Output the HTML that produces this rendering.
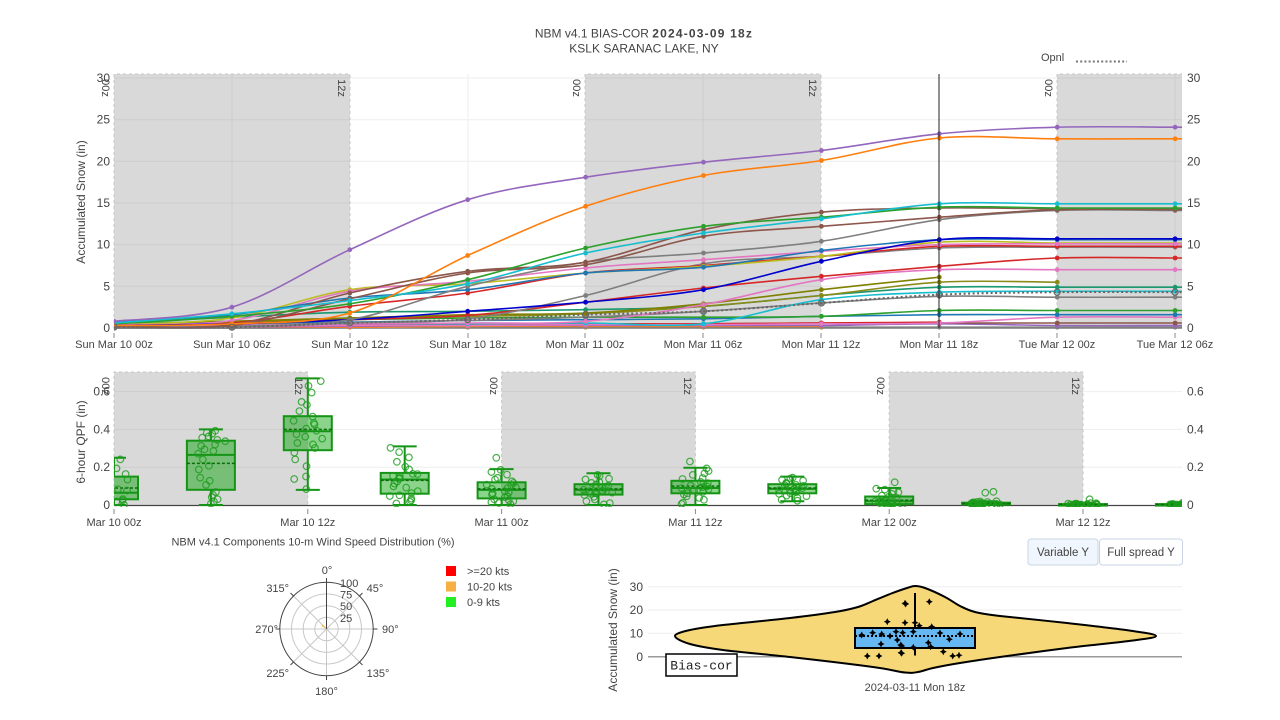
<!DOCTYPE html>
<html><head><meta charset="utf-8">
<style>
html,body{margin:0;padding:0;background:#fff;}
svg{display:block;font-family:"Liberation Sans",Arial,sans-serif;}
</style></head>
<body>
<svg id="s" width="1280" height="720" viewBox="0 0 1280 720" xmlns="http://www.w3.org/2000/svg">
<defs>
 <clipPath id="c1"><rect x="114" y="70" width="1068" height="262"/></clipPath>
 <clipPath id="c2"><rect x="114" y="370" width="1068" height="137"/></clipPath>
</defs>

<!-- Titles -->
<text x="644" y="37.5" text-anchor="middle" font-size="12" fill="#444">NBM v4.1 BIAS-COR <tspan font-weight="bold" letter-spacing="1.2">2024-03-09 18z</tspan></text>
<text x="644" y="52.5" text-anchor="middle" font-size="12" fill="#444">KSLK SARANAC LAKE, NY</text>

<!-- Opnl legend -->
<text x="1041" y="61" font-size="11" fill="#444">Opnl</text>
<line x1="1076" y1="61.5" x2="1127" y2="61.5" stroke="#777" stroke-width="2" stroke-dasharray="2,2.2"/>

<!-- ===== TOP CHART ===== -->
<g stroke="#eeeeee" stroke-width="1">
 <line x1="114" y1="78" x2="1182" y2="78"/>
 <line x1="114" y1="119.7" x2="1182" y2="119.7"/>
 <line x1="114" y1="161.3" x2="1182" y2="161.3"/>
 <line x1="114" y1="203" x2="1182" y2="203"/>
 <line x1="114" y1="244.7" x2="1182" y2="244.7"/>
 <line x1="114" y1="286.3" x2="1182" y2="286.3"/>
 <line x1="232" y1="74" x2="232" y2="328"/>
 <line x1="468" y1="74" x2="468" y2="328"/>
 <line x1="703" y1="74" x2="703" y2="328"/>
 <line x1="939" y1="74" x2="939" y2="328"/>
 <line x1="1175" y1="74" x2="1175" y2="328"/>
</g>
<g fill="#808080" fill-opacity="0.3">
 <rect x="114" y="74" width="236" height="255"/>
 <rect x="585" y="74" width="236" height="255"/>
 <rect x="1057" y="74" width="125" height="255"/>
</g>
<g stroke="#c6c6c6" stroke-width="1" stroke-dasharray="3,3" fill="none">
 <path d="M114,329 V74 H350 V329"/>
 <path d="M585,329 V74 H821 V329"/>
 <path d="M1057,329 V74 H1182"/>
</g>
<line x1="114" y1="328.5" x2="1182" y2="328.5" stroke="#9a9a9a" stroke-width="1"/>

<g font-size="11" fill="#444" text-anchor="middle">
 <text transform="translate(106,88) rotate(90)" dy="4">00z</text>
 <text transform="translate(342,88) rotate(90)" dy="4">12z</text>
 <text transform="translate(577,88) rotate(90)" dy="4">00z</text>
 <text transform="translate(813,88) rotate(90)" dy="4">12z</text>
 <text transform="translate(1049,88) rotate(90)" dy="4">00z</text>
</g>

<g id="lines" clip-path="url(#c1)"></g>

<line x1="939" y1="74" x2="939" y2="328" stroke="#222" stroke-width="1"/>

<g font-size="12" fill="#444" text-anchor="end">
 <text x="110" y="82">30</text>
 <text x="110" y="123.7">25</text>
 <text x="110" y="165.3">20</text>
 <text x="110" y="207">15</text>
 <text x="110" y="248.7">10</text>
 <text x="110" y="290.3">5</text>
 <text x="110" y="332">0</text>
</g>
<g font-size="12" fill="#444" text-anchor="start">
 <text x="1187" y="82">30</text>
 <text x="1187" y="123.7">25</text>
 <text x="1187" y="165.3">20</text>
 <text x="1187" y="207">15</text>
 <text x="1187" y="248.7">10</text>
 <text x="1187" y="290.3">5</text>
 <text x="1187" y="332">0</text>
</g>
<g stroke="#888" stroke-width="1">
 <line x1="114" y1="333" x2="114" y2="338"/>
 <line x1="232" y1="333" x2="232" y2="338"/>
 <line x1="350" y1="333" x2="350" y2="338"/>
 <line x1="468" y1="333" x2="468" y2="338"/>
 <line x1="585" y1="333" x2="585" y2="338"/>
 <line x1="703" y1="333" x2="703" y2="338"/>
 <line x1="821" y1="333" x2="821" y2="338"/>
 <line x1="939" y1="333" x2="939" y2="338"/>
 <line x1="1057" y1="333" x2="1057" y2="338"/>
 <line x1="1175" y1="333" x2="1175" y2="338"/>
</g>
<g font-size="11" fill="#444" text-anchor="middle">
 <text x="114" y="348">Sun Mar 10 00z</text>
 <text x="232" y="348">Sun Mar 10 06z</text>
 <text x="350" y="348">Sun Mar 10 12z</text>
 <text x="468" y="348">Sun Mar 10 18z</text>
 <text x="585" y="348">Mon Mar 11 00z</text>
 <text x="703" y="348">Mon Mar 11 06z</text>
 <text x="821" y="348">Mon Mar 11 12z</text>
 <text x="939" y="348">Mon Mar 11 18z</text>
 <text x="1057" y="348">Tue Mar 12 00z</text>
 <text x="1175" y="348">Tue Mar 12 06z</text>
</g>
<text transform="translate(85,202) rotate(-90)" text-anchor="middle" font-size="12" fill="#444">Accumulated Snow (in)</text>

<!-- ===== QPF CHART ===== -->
<g stroke="#eeeeee" stroke-width="1">
 <line x1="114" y1="467.2" x2="1182" y2="467.2"/>
 <line x1="114" y1="429.4" x2="1182" y2="429.4"/>
 <line x1="114" y1="391.6" x2="1182" y2="391.6"/>
</g>
<g fill="#808080" fill-opacity="0.3">
 <rect x="114" y="372" width="193.8" height="133"/>
 <rect x="501.6" y="372" width="193.8" height="133"/>
 <rect x="889.2" y="372" width="193.8" height="133"/>
</g>
<g stroke="#c6c6c6" stroke-width="1" stroke-dasharray="3,3" fill="none">
 <path d="M114,505 V372 H307.8 V505"/>
 <path d="M501.6,505 V372 H695.4 V505"/>
 <path d="M889.2,505 V372 H1083 V505"/>
</g>
<g font-size="11" fill="#444" text-anchor="middle">
 <text transform="translate(106,386) rotate(90)" dy="4">00z</text>
 <text transform="translate(299,386) rotate(90)" dy="4">12z</text>
 <text transform="translate(494,386) rotate(90)" dy="4">00z</text>
 <text transform="translate(688,386) rotate(90)" dy="4">12z</text>
 <text transform="translate(881,386) rotate(90)" dy="4">00z</text>
 <text transform="translate(1076,386) rotate(90)" dy="4">12z</text>
</g>
<line x1="114" y1="505.5" x2="1182" y2="505.5" stroke="#444" stroke-width="1.2"/>
<g id="boxes" clip-path="url(#c2)"></g>

<g font-size="12" fill="#444" text-anchor="end">
 <text x="110" y="509">0</text>
 <text x="110" y="471.2">0.2</text>
 <text x="110" y="433.4">0.4</text>
 <text x="110" y="395.6">0.6</text>
</g>
<g font-size="12" fill="#444" text-anchor="start">
 <text x="1187" y="509">0</text>
 <text x="1187" y="471.2">0.2</text>
 <text x="1187" y="433.4">0.4</text>
 <text x="1187" y="395.6">0.6</text>
</g>
<g stroke="#888" stroke-width="1">
 <line x1="114" y1="509" x2="114" y2="514"/>
 <line x1="307.8" y1="509" x2="307.8" y2="514"/>
 <line x1="501.6" y1="509" x2="501.6" y2="514"/>
 <line x1="695.4" y1="509" x2="695.4" y2="514"/>
 <line x1="889.2" y1="509" x2="889.2" y2="514"/>
 <line x1="1083" y1="509" x2="1083" y2="514"/>
</g>
<g font-size="11" fill="#444" text-anchor="middle">
 <text x="114" y="526">Mar 10 00z</text>
 <text x="307.8" y="526">Mar 10 12z</text>
 <text x="501.6" y="526">Mar 11 00z</text>
 <text x="695.4" y="526">Mar 11 12z</text>
 <text x="889.2" y="526">Mar 12 00z</text>
 <text x="1083" y="526">Mar 12 12z</text>
</g>
<text transform="translate(85,442) rotate(-90)" text-anchor="middle" font-size="12" fill="#444">6-hour QPF (in)</text>

<!-- ===== WIND ROSE ===== -->
<text x="313" y="545.5" text-anchor="middle" font-size="11" fill="#444">NBM v4.1 Components 10-m Wind Speed Distribution (%)</text>
<g transform="translate(326.5,629)">
 <g stroke="#c8c8c8" stroke-width="1" fill="none">
  <circle r="11.7"/><circle r="23.3"/><circle r="35"/>
  <line x1="0" y1="0" x2="0" y2="46.7"/>
  <line x1="0" y1="0" x2="46.7" y2="0"/>
  <line x1="0" y1="0" x2="-46.7" y2="0"/>
  <line x1="0" y1="0" x2="33" y2="-33"/>
  <line x1="0" y1="0" x2="33" y2="33"/>
  <line x1="0" y1="0" x2="-33" y2="33"/>
  <line x1="0" y1="0" x2="-33" y2="-33"/>
 </g>
 <circle r="46.7" fill="none" stroke="#444" stroke-width="1"/>
 <line x1="0" y1="0" x2="0" y2="-46.7" stroke="#444" stroke-width="1"/>
 <g stroke="#444" stroke-width="1">
  <line x1="0" y1="-46.7" x2="0" y2="-51"/>
  <line x1="0" y1="46.7" x2="0" y2="51"/>
  <line x1="46.7" y1="0" x2="51" y2="0"/>
  <line x1="-46.7" y1="0" x2="-51" y2="0"/>
  <line x1="33" y1="-33" x2="36" y2="-36"/>
  <line x1="33" y1="33" x2="36" y2="36"/>
  <line x1="-33" y1="33" x2="-36" y2="36"/>
  <line x1="-33" y1="-33" x2="-36" y2="-36"/>
 </g>
 <path d="M0,0 L-5,-3 L-4,-4.5 Z" fill="#f5b041"/>
</g>
<g font-size="11" fill="#444">
 <text x="340" y="587">100</text>
 <text x="340" y="598.5">75</text>
 <text x="340" y="610">50</text>
 <text x="340" y="622">25</text>
 <text x="327" y="574" text-anchor="middle">0°</text>
 <text x="375" y="592" text-anchor="middle">45°</text>
 <text x="382" y="633">90°</text>
 <text x="378" y="677" text-anchor="middle">135°</text>
 <text x="326.5" y="695" text-anchor="middle">180°</text>
 <text x="277.7" y="677" text-anchor="middle">225°</text>
 <text x="278" y="633" text-anchor="end">270°</text>
 <text x="277.7" y="592" text-anchor="middle">315°</text>
</g>
<rect x="446" y="566" width="10" height="10" fill="#ff0000"/>
<rect x="446" y="581.5" width="10" height="10" fill="#f5b041"/>
<rect x="446" y="597" width="10" height="10" fill="#22ee22"/>
<g font-size="11" fill="#444">
 <text x="467" y="575">&gt;=20 kts</text>
 <text x="467" y="590.5">10-20 kts</text>
 <text x="467" y="606">0-9 kts</text>
</g>

<!-- ===== BUTTONS ===== -->
<rect x="1028" y="539" width="70" height="26" rx="3" fill="#f0f6fd" stroke="#c8d4e3"/>
<text x="1063" y="556" text-anchor="middle" font-size="11.5" fill="#444">Variable Y</text>
<rect x="1099.5" y="539" width="83" height="26" rx="3" fill="#fff" stroke="#c8d4e3"/>
<text x="1141" y="556" text-anchor="middle" font-size="11.5" fill="#444">Full spread Y</text>

<!-- ===== VIOLIN ===== -->
<g stroke="#eeeeee" stroke-width="1">
 <line x1="648" y1="586.7" x2="1182" y2="586.7"/>
 <line x1="648" y1="610" x2="1182" y2="610"/>
 <line x1="648" y1="633.3" x2="1182" y2="633.3"/>
</g>
<line x1="648" y1="656.7" x2="1182" y2="656.7" stroke="#999" stroke-width="1.5"/>
<g font-size="12" fill="#444" text-anchor="end">
 <text x="643" y="591">30</text>
 <text x="643" y="614">20</text>
 <text x="643" y="637.5">10</text>
 <text x="643" y="661">0</text>
</g>
<text transform="translate(617,630) rotate(-90)" text-anchor="middle" font-size="12" fill="#444">Accumulated Snow (in)</text>
<g id="violin"></g>
<rect x="666" y="654" width="71" height="22" fill="#fff" stroke="#000" stroke-width="1.5"/>
<text x="701.5" y="669.5" text-anchor="middle" font-size="13" font-family="Liberation Mono, monospace" fill="#222">Bias-cor</text>
<text x="915" y="691" text-anchor="middle" font-size="11" fill="#444">2024-03-11 Mon 18z</text>
</svg>

<script>
(function(){
const NS='http://www.w3.org/2000/svg';
function el(tag,attrs,parent){const e=document.createElementNS(NS,tag);for(const k in attrs)e.setAttribute(k,attrs[k]);parent.appendChild(e);return e;}
function f(v){return v.toFixed(1);}
function cr(pts,closed){
  const n=pts.length;
  let d='M'+f(pts[0][0])+','+f(pts[0][1]);
  const get=i=>closed?pts[(i+n)%n]:pts[Math.max(0,Math.min(n-1,i))];
  const segs=closed?n:n-1;
  const t=1/6;
  for(let i=0;i<segs;i++){
    const p0=get(i-1),p1=get(i),p2=get(i+1),p3=get(i+2);
    const c1=[p1[0]+(p2[0]-p0[0])*t,p1[1]+(p2[1]-p0[1])*t];
    const c2=[p2[0]-(p3[0]-p1[0])*t,p2[1]-(p3[1]-p1[1])*t];
    d+='C'+f(c1[0])+','+f(c1[1])+' '+f(c2[0])+','+f(c2[1])+' '+f(p2[0])+','+f(p2[1]);
  }
  if(closed)d+='Z';
  return d;
}
// ---- top chart lines
const X=i=>114+i*117.9, Y=v=>328-v*8.333;
const series=[
 ['#7f7f7f',[0.0,0.0,0.1,0.1,0.1,0.1,0.1,0.1,0.1,0.1]],
 ['#ff7f0e',[0.1,0.1,0.1,0.2,0.2,0.2,0.2]],
 ['#9467bd',[0.1,0.1,0.2,0.3,0.3,0.3,0.3,0.5,0.3,0.3]],
 ['#8c564b',[0.2,0.3,0.4,0.5,0.5,0.5,0.6,0.6,0.6,0.6]],
 ['#d62728',[0.1,0.2,0.3,0.4,0.5,0.5,0.6,0.7]],
 ['#e377c2',[0.1,0.2,0.3,0.3,0.4,0.4,0.5,0.6,1.3,1.3]],
 ['#1f77b4',[0.3,0.5,0.7,0.9,1.0,1.1,1.4,1.6,1.6,1.6]],
 ['#2ca02c',[0.5,0.8,1.0,1.2,1.3,1.3,1.4,2.1,2.1,2.1]],
 ['#7f7f7f',[0.2,0.3,0.6,0.9,1.3,2.0,3.0,3.8,3.7,3.7]],
 ['#17becf',[0.2,0.3,0.5,0.5,0.6,0.5,3.4,4.3,4.4,4.4]],
 ['#1a9870',[0.6,1.3,1.9,2.0,2.2,2.6,3.9,4.9,4.9,4.9]],
 ['#8a8a1a',[0.3,0.6,1.2,1.4,1.7,2.6,3.9,5.5,5.5]],
 ['#808000',[0.3,0.8,1.2,1.6,1.8,2.9,4.6,6.1]],
 ['#e377c2',[0.2,0.3,0.5,0.6,0.8,2.8,5.8,7.0,7.0,7.0]],
 ['#d62728',[0.3,0.5,1.0,1.5,3.1,4.8,6.2,7.4,8.4,8.4]],
 ['#7f7f7f',[0.1,0.1,0.6,1.1,3.9,7.7,8.6,9.6,9.7,9.7]],
 ['#d62728',[0.4,0.6,2.6,4.2,6.6,7.5,8.6,9.8,9.8,9.8]],
 ['#bcbd22',[0.4,1.2,4.6,5.3,6.6,7.4,8.6,10.3,10.2,10.2]],
 ['#e377c2',[0.4,0.9,4.4,5.6,7.2,8.2,9.2,10.0,10.1,10.1]],
 ['#1f77b4',[0.7,1.6,3.6,4.6,6.6,7.3,9.3,10.6,10.6,10.6]],
 ['#0000cd',[0.3,0.5,1.0,2.0,3.1,4.6,8.0,10.6,10.7,10.7]],
 ['#7f7f7f',[0.1,0.2,1.0,5.0,7.9,9.0,10.4,13.0,14.1,14.1]],
 ['#8c564b',[0.2,0.3,3.5,6.6,7.6,11.0,12.2,13.3,14.2,14.2]],
 ['#8c564b',[0.3,0.4,4.2,6.8,7.9,11.8,13.9,14.4,14.3,14.3]],
 ['#2ca02c',[0.5,1.4,2.9,5.8,9.6,12.2,13.3,14.5,14.4,14.4]],
 ['#17becf',[0.6,1.7,3.3,5.3,9.0,11.4,13.1,14.9,14.9,14.9]],
 ['#ff7f0e',[0.3,0.5,1.8,8.7,14.6,18.3,20.1,22.8,22.7,22.7]],
 ['#9467bd',[0.8,2.5,9.4,15.4,18.1,19.9,21.3,23.3,24.1,24.1]]
];
const gl=document.getElementById('lines');
function drawSeries(col,vals,opts){
  const pts=vals.map((v,i)=>[X(i),Y(v)]);
  let d=cr(pts,false);
  if(vals.length===10) d+='L1183,'+f(Y(vals[9]));
  const a={d:d,fill:'none',stroke:col,'stroke-width':opts&&opts.w||1.6};
  if(opts&&opts.dash)a['stroke-dasharray']=opts.dash;
  el('path',a,gl);
  pts.forEach(p=>{
    if(opts&&opts.open) el('circle',{cx:f(p[0]),cy:f(p[1]),r:3,fill:'none',stroke:col,'stroke-width':1.2},gl);
    else el('circle',{cx:f(p[0]),cy:f(p[1]),r:2.4,fill:col},gl);
  });
}
series.forEach(s=>drawSeries(s[0],s[1]));
drawSeries('#666',[0.1,0.1,0.6,1.0,1.6,2.0,3.0,4.0,4.3,4.3],{dash:'2,2.5',open:true,w:2});

// ---- QPF boxes
const gb=document.getElementById('boxes');
const Q=v=>505-v*189;
let seed=12345;
const rnd=()=>{seed=(seed*16807)%2147483647;return seed/2147483647;};
const boxes=[
 [0,0.03,0.065,0.15,0.25,0.09,[]],
 [0,0.08,0.265,0.34,0.40,0.22,[]],
 [0.08,0.29,0.39,0.47,0.67,0.40,[]],
 [0,0.06,0.135,0.17,0.31,0.13,[]],
 [0,0.035,0.08,0.12,0.19,0.085,[0.25]],
 [0,0.055,0.08,0.11,0.168,0.085,[]],
 [0,0.062,0.09,0.128,0.197,0.10,[0.23]],
 [0.02,0.062,0.085,0.11,0.15,0.09,[]],
 [0,0.005,0.02,0.045,0.09,0.025,[0.12]],
 [0,0.002,0.005,0.012,0.02,0.008,[0.07,0.065]],
 [0,0,0.002,0.005,0.01,0.004,[0.03]],
 [0,0,0.002,0.005,0.012,0.004,[]]
];
const G='#149414';
boxes.forEach((b,k)=>{
  const cx=114+k*96.9,w=48;
  const [lo,q1,md,q3,hi,mn,out]=b;
  const top=Q(q3),bot=Q(q1);
  el('line',{x1:cx,y1:f(top),x2:cx,y2:f(Q(hi)),stroke:G,'stroke-width':2},gb);
  el('line',{x1:cx,y1:f(bot),x2:cx,y2:f(Q(lo)),stroke:G,'stroke-width':2},gb);
  el('line',{x1:cx-12,y1:f(Q(hi)),x2:cx+12,y2:f(Q(hi)),stroke:G,'stroke-width':2},gb);
  el('line',{x1:cx-12,y1:f(Q(lo)),x2:cx+12,y2:f(Q(lo)),stroke:G,'stroke-width':2},gb);
  el('rect',{x:cx-w/2,y:f(top),width:w,height:f(Math.max(bot-top,1.5)),fill:'rgb(0,160,0)','fill-opacity':0.45,stroke:G,'stroke-width':2},gb);
  el('line',{x1:cx-w/2,y1:f(Q(md)),x2:cx+w/2,y2:f(Q(md)),stroke:G,'stroke-width':2},gb);
  el('line',{x1:cx-w/2,y1:f(Q(mn)),x2:cx+w/2,y2:f(Q(mn)),stroke:'#0b6b0b','stroke-width':1.5,'stroke-dasharray':'3,2'},gb);
  const qs=[lo,q1,md,q3,hi];
  const n=24;
  for(let i=0;i<n;i++){
    const u=(i+rnd()*0.9)/n*4;
    const j=Math.min(3,Math.floor(u));
    const v=qs[j]+(qs[j+1]-qs[j])*(u-j);
    const x=cx+(rnd()-0.5)*30;
    el('circle',{cx:f(x),cy:f(Q(v)),r:3.3,fill:'none',stroke:'#1c9c1c','stroke-opacity':0.8,'stroke-width':1.2},gb);
  }
  out.forEach(v=>{
    el('circle',{cx:f(cx+(rnd()-0.5)*16),cy:f(Q(v)),r:3.3,fill:'none',stroke:'#1c9c1c','stroke-opacity':0.8,'stroke-width':1.2},gb);
  });
});

// ---- Violin
const gv=document.getElementById('violin');
const vp=[[675,636],[690,630],[723,625],[790,618],[835,612],[858,607],[873,601],[890,594],[907,588],[915,586],[925,588],[945,597],[960,606],[975,612],[1000,616],[1067,623],[1133,631],[1156,636],
 [1133,640.5],[1067,648],[1000,657],[960,663],[933,668],[918,672],[905,672.5],[873,667],[790,657],[723,650],[690,644]];
el('path',{d:cr(vp,true),fill:'#f6d878',stroke:'#000','stroke-width':2},gv);
el('line',{x1:915,y1:593,x2:915,y2:655.5,stroke:'#000','stroke-width':2},gv);
el('rect',{x:855,y:628,width:120,height:20,fill:'#66b8f2',stroke:'#000','stroke-width':2},gv);
el('line',{x1:855,y1:636,x2:975,y2:636,stroke:'#000','stroke-width':2,'stroke-dasharray':'2,2'},gv);
const vpts=[[861.7,635],[872.7,632.7],[881.7,634],[881,644],[887.3,621.7],[867.3,656],[879,656],[905,603.3],[905,622.7],[896,631.7],[902.7,632.7],[897.3,640],[900.7,645],[901,652.7],
 [905.7,604],[929.3,601.7],[915,622.7],[919.3,625.7],[931.7,626.7],[913.3,631.7],[960,634],[949.3,639.3],[928.3,642.7],[930.7,646.7],[913.3,647.3],[901.7,646],[901.7,653.3],[943.3,651.7],[952.7,656],[959,655.3],[890,636],[940,633]];
vpts.forEach(p=>{
  const [x,y]=p;
  el('path',{d:'M'+f(x)+','+f(y-3.5)+'L'+f(x+1.2)+','+f(y-1.2)+'L'+f(x+3.5)+','+f(y)+'L'+f(x+1.2)+','+f(y+1.2)+'L'+f(x)+','+f(y+3.5)+'L'+f(x-1.2)+','+f(y+1.2)+'L'+f(x-3.5)+','+f(y)+'L'+f(x-1.2)+','+f(y-1.2)+'Z',fill:'#000'},gv);
});
})();
</script>
</body></html>
